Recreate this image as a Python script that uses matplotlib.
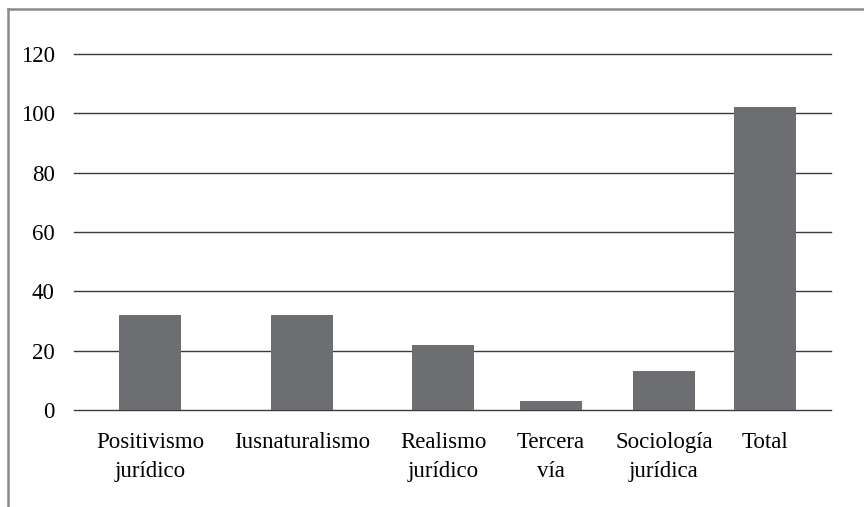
import matplotlib
matplotlib.use("Agg")
import matplotlib.pyplot as plt
from matplotlib.lines import Line2D

categories = ["Positivismo\njurídico", "Iusnaturalismo", "Realismo\njurídico",
              "Tercera\nvía", "Sociología\njurídica", "Total"]
values = [32, 32, 22, 3, 13, 102]
# bar centres along the category axis (axis spans 0..757)
slot_centres = [76, 228, 369, 477, 590, 691]
yticks = [0, 20, 40, 60, 80, 100, 120]

BAR_COLOR = "#6d6e71"
GRID_COLOR = "#3a3a3a"
FRAME_COLOR = "#8a8a8a"

plt.rcParams["font.family"] = ["Liberation Serif", "DejaVu Serif"]

fig = plt.figure(figsize=(8.64, 5.07), dpi=100)
ax = fig.add_axes([74 / 864, 1 - 410 / 507, (831 - 74) / 864, (410 - 54) / 507])

for y in yticks:
    ax.axhline(y, color=GRID_COLOR, linewidth=1.0, zorder=1, clip_on=False)

ax.bar(slot_centres, values, width=62, color=BAR_COLOR, zorder=2)

ax.set_xlim(0, 757)
ax.set_ylim(0, 120)
ax.set_yticks(yticks)
ax.set_yticklabels([str(v) for v in yticks], fontsize=16.5)
ax.set_xticks(slot_centres)
ax.set_xticklabels(categories, fontsize=16.5, linespacing=1.5, va="top")
ax.tick_params(axis="both", length=0, colors="black")
ax.tick_params(axis="y", pad=14)
ax.tick_params(axis="x", pad=16)
for s in ax.spines.values():
    s.set_visible(False)

# outer frame: top and left edges only
fig.add_artist(Line2D([8 / 864, 1], [1 - 9 / 507] * 2, color=FRAME_COLOR, linewidth=1.8,
                      transform=fig.transFigure))
fig.add_artist(Line2D([8 / 864] * 2, [0, 1 - 9 / 507], color=FRAME_COLOR, linewidth=1.8,
                      transform=fig.transFigure))

fig.savefig("out.png", dpi=100)
